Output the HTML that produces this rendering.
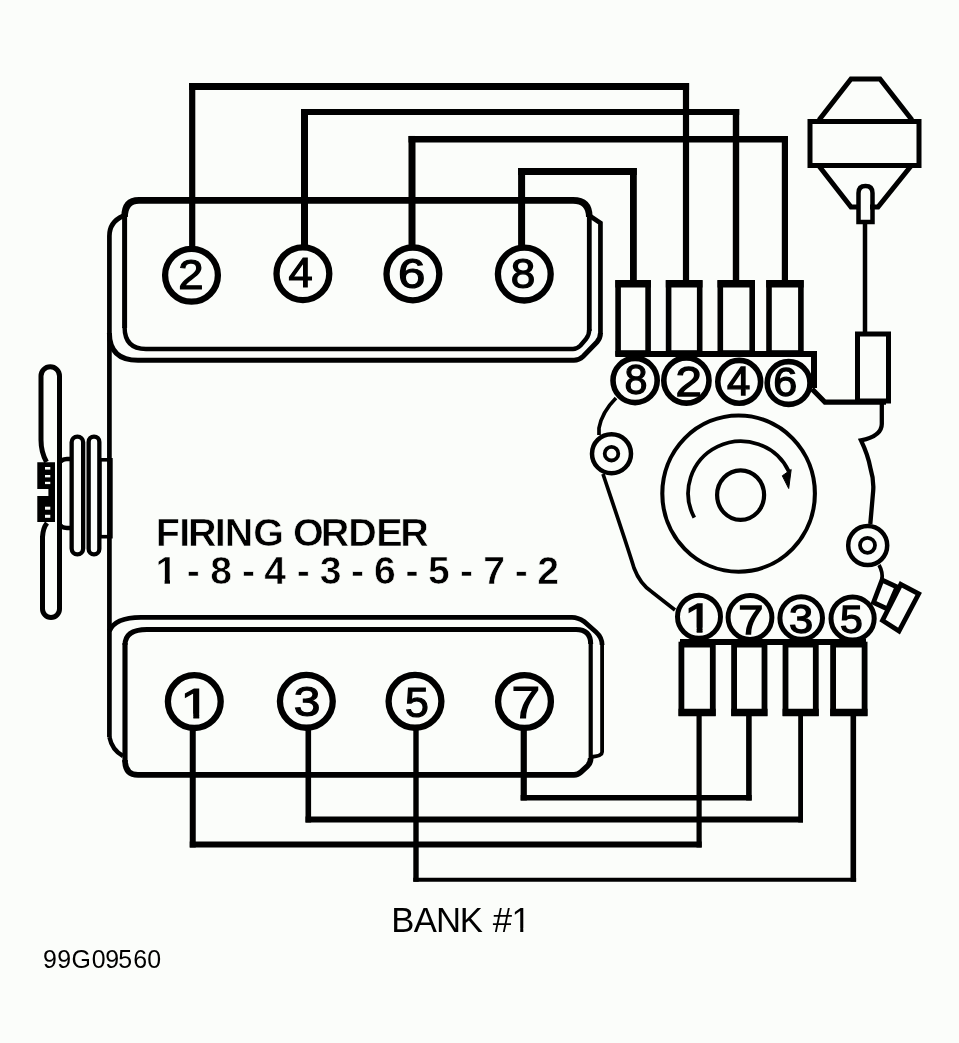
<!DOCTYPE html>
<html><head><meta charset="utf-8"><style>
html,body{margin:0;padding:0;background:#fbfdfa;}
svg{display:block;will-change:transform;}
text{font-family:"Liberation Sans",sans-serif;}
</style></head><body>
<svg width="959" height="1043" viewBox="0 0 959 1043">
<rect width="959" height="1043" fill="#fbfdfa"/>
<g fill="none" stroke="#000" stroke-linejoin="miter" stroke-linecap="butt">
<path stroke-width="6.2" d="M192.2 250.00 V83.00"/>
<path stroke-width="7" d="M189.10 86.5 H689.10"/>
<path stroke-width="6.2" d="M686 83.00 V284.00"/>
<path stroke-width="7" d="M304.5 248.00 V108.90"/>
<path stroke-width="6.2" d="M301.00 112 H739.20"/>
<path stroke-width="6.4" d="M736 108.90 V284.00"/>
<path stroke-width="7" d="M412 248.00 V135.95"/>
<path stroke-width="6.5" d="M408.50 139.2 H788.00"/>
<path stroke-width="6.2" d="M784.9 135.95 V284.00"/>
<path stroke-width="7" d="M521.6 248.00 V168.00"/>
<path stroke-width="7" d="M518.10 171.5 H636.80"/>
<path stroke-width="6.8" d="M633.4 168.00 V284.00"/>
<path stroke-width="6.6" d="M124.6 217 Q124.6 200.4 139 200.4 H573 Q589.3 200.4 589.3 217"/>
<path stroke-width="5" d="M124.6 214 V328"/>
<path stroke-width="4.8" d="M589.3 214 V331"/>
<path stroke-width="4.4" d="M124.6 327 Q124.6 349 146 349 H573 Q577 349 580.5 345.5 L586 339 Q589.3 335 589.3 329"/>
<path stroke-width="4.7" d="M123 216 Q109.4 222 109.4 236 V737 M600.45 334 V223 L590 216"/>
<path stroke-width="5" d="M109.4 333 Q109.4 360.3 138 360.3 H574 Q579 360.3 583 356.5 L597 342 Q600.45 338 600.45 333"/>
<path stroke-width="5" d="M125 645 Q125 629.4 147 629.4 H576 Q590.7 629.4 590.7 644"/>
<path stroke-width="5.15" d="M125 643 V762"/>
<path stroke-width="4.2" d="M590.7 642 V761"/>
<path stroke-width="5.6" d="M125 760 Q125 774.9 138 774.9 H574 Q578 774.9 581 772 L587.5 766 Q590.7 763 590.7 758"/>
<path stroke-width="4.8" d="M109.4 631 Q115 617.3 141 617.3 H572 Q578 617.3 584 621.5 L596 632 Q602.1 637.5 602.1 645"/>
<path stroke-width="3.8" d="M602.1 643 V752 Q602.1 756 591 757"/>
<path stroke-width="4.4" d="M109.4 737 Q112 750 123 756"/>
<path stroke-width="6" d="M192.75 728.00 V847.50"/>
<path stroke-width="6" d="M189.75 844.5 H701.70"/>
<path stroke-width="5.2" d="M699.1 847.50 V713.00"/>
<path stroke-width="5.6" d="M308.3 728.00 V822.50"/>
<path stroke-width="6" d="M305.50 819.5 H803.00"/>
<path stroke-width="4.8" d="M800.6 822.50 V713.00"/>
<path stroke-width="5.4" d="M416 728.00 V881.80"/>
<path stroke-width="4" d="M413.30 879.8 H856.10"/>
<path stroke-width="5.6" d="M853.3 881.80 V713.00"/>
<path stroke-width="6.2" d="M523.75 728.00 V800.50"/>
<path stroke-width="5.4" d="M520.65 797.8 H751.70"/>
<path stroke-width="5.6" d="M748.9 800.50 V713.00"/>
<g stroke-width="5.6">
<rect x="618.1" y="283" width="30.0" height="70"/>
<path stroke-width="7.5" d="M615.3 283.75 H650.9"/>
<rect x="668.6" y="283" width="31.1" height="70"/>
<path stroke-width="7.5" d="M665.8 283.75 H702.5"/>
<rect x="720.3" y="283" width="31.9" height="70"/>
<path stroke-width="7.5" d="M717.5 283.75 H755"/>
<rect x="769.0" y="283" width="31.9" height="70"/>
<path stroke-width="7.5" d="M766.2 283.75 H803.7"/>
</g>
<path stroke-width="6" d="M615.3 354 H814 V388"/>
<path stroke-width="5" d="M810 121.5 H919 V165.5 H810 Z"/>
<path stroke-width="5" d="M819 120 L851 79 H880 L912 120 M819 166 L851 207 H859 M870 207 H878 L911 166"/>
<path stroke-width="4.5" d="M858.5 222 V193 Q858.5 186 865.5 186 Q872.5 186 872.5 193 V222 Z"/>
<path stroke-width="4.5" d="M865 222 V333"/>
<rect x="857.5" y="334" width="31" height="67" stroke-width="5"/>
<path stroke-width="5.2" d="M812 389 L825 402.2 H886"/>
<path stroke-width="4.3" d="M881.8 402 V424 Q881.8 436 861 440.4 Q868 455 870.3 467.7 Q874 480 873.2 490.7 L870.3 524"/>
<path stroke-width="3.7" d="M616 398 Q602 412 599 428 V435 M603 474 C610 495 628 548 634 568 Q640 584 652 592 L675 610"/>
<path stroke-width="3.7" d="M879 565 Q883 572 882 580"/>
<circle cx="611.5" cy="453.7" r="19.5" stroke-width="4.5"/>
<circle cx="611.5" cy="453.7" r="6.8" stroke-width="3.8"/>
<circle cx="867.7" cy="545.5" r="19.5" stroke-width="4.5"/>
<circle cx="867.5" cy="545.3" r="7.5" stroke-width="3.8"/>
<path stroke-width="4.8" d="M882 580 L897 587 L887.5 609 L873.5 602.5 Z"/>
<path stroke-width="4.8" d="M900.8 584.3 L918.7 593.8 L899 631 L882.5 620.5 Z"/>
<ellipse cx="738.6" cy="493.6" rx="76.3" ry="78.1" stroke-width="4.1"/>
<ellipse cx="740.6" cy="495.1" rx="23.5" ry="24.8" stroke-width="4.2"/>
<path stroke-width="3.8" d="M694.31 517.57 A52.75 52 0 1 1 788.81 471.42"/>
<path fill="#000" stroke-width="1" d="M782.3 475.8 L791.2 469.5 L788.7 488.5 Z"/>
<g stroke-width="5.6" fill="#fbfdfa">
<circle cx="635.1" cy="380.5" r="22.1"/>
<circle cx="686.4" cy="380.5" r="22.6"/>
<circle cx="739.2" cy="381.8" r="21.4"/>
<circle cx="788.6" cy="383" r="21.4"/>
</g>
<g stroke-width="5.8">
<rect x="681.4" y="644.6" width="31.4" height="68.4"/>
<path stroke-width="7.5" d="M678.5 712.6 H715.7"/>
<rect x="734.1" y="644.6" width="30.4" height="68.4"/>
<path stroke-width="7.5" d="M731.25 712.6 H767.5"/>
<rect x="785.5" y="644.6" width="30.3" height="68.4"/>
<path stroke-width="7.5" d="M782.6 712.6 H818.75"/>
<rect x="833.1" y="644.6" width="31.5" height="68.4"/>
<path stroke-width="7.5" d="M830.2 712.6 H867.5"/>
</g>
<path stroke-width="6" d="M680 642 H866"/>
<g stroke-width="5" fill="#fbfdfa">
<circle cx="699" cy="616.8" r="21.5"/>
<circle cx="750" cy="617.5" r="21.9"/>
<circle cx="801.2" cy="618" r="21.3"/>
<circle cx="852.6" cy="618.5" r="21.6"/>
</g>
<path stroke-width="5" d="M46.5 462 Q41 452 41 440 V376 A9.25 9.25 0 0 1 59.5 376 V609 A8.5 8.5 0 0 1 42.5 609 V537 Q43 528 47 523"/>
<path fill="#000" stroke="none" d="M37.3 462.3 H55 V522 H37.3 V496 H48.4 V489 H37.3 Z"/>
<g fill="#fbfdfa" stroke="none">
<rect x="45" y="467" width="5.3" height="2.6"/>
<rect x="45" y="475" width="5.3" height="2.4"/>
<rect x="45" y="481.8" width="5.3" height="2.3"/>
<rect x="45" y="506.7" width="5.3" height="3"/>
<rect x="45" y="514.8" width="5.3" height="3"/>
</g>
<path stroke-width="4.5" d="M59 464 Q61 459 67 459 H71 M59 523 Q61 528 67 528 H71"/>
<rect x="71.65" y="436.55" width="11.5" height="117.8" rx="5.75" stroke-width="4.3"/>
<rect x="88.65" y="436.55" width="10.7" height="117.8" rx="5.35" stroke-width="4.3"/>
<rect x="99.8" y="459.8" width="11.1" height="76.9" stroke-width="3.6"/>
<g stroke-width="6.3" fill="#fbfdfa">
<circle cx="191.5" cy="275.3" r="26.4"/>
<circle cx="302.9" cy="273.7" r="26.4"/>
<circle cx="412.9" cy="273.9" r="26.4"/>
<circle cx="524.3" cy="274.1" r="26.4"/>
<circle cx="194.3" cy="701.6" r="26.4"/>
<circle cx="306.35" cy="701.35" r="26.4"/>
<circle cx="415" cy="701.35" r="26.4"/>
<circle cx="524.5" cy="701.5" r="26.4"/>
</g>
</g>
<g fill="#000" stroke="#000">
<text transform="translate(178.20,289.10) scale(1.073,1)" font-size="42.54" stroke-width="1.2">2</text>
<text transform="translate(288.40,287.20) scale(1.007,1)" font-size="43.17" stroke-width="1.2">4</text>
<text transform="translate(398.10,287.99) scale(1.169,1)" font-size="42.09" stroke-width="1.2">6</text>
<text transform="translate(510.68,287.58) scale(1.038,1)" font-size="42.51" stroke-width="1.2">8</text>
<clipPath id="c1"><path clip-rule="evenodd" d="M0 0H959V1043H0Z M173.32 721.40 H193.32 V713.76 H173.32Z M199.20 721.40 H219.20 V713.76 H199.20Z"/></clipPath><g clip-path="url(#c1)"><text transform="translate(180.61,718.40) scale(1.222,1)" font-size="43.31" stroke-width="1.2">1</text></g>
<text transform="translate(293.78,715.98) scale(1.126,1)" font-size="42.51" stroke-width="1.2">3</text>
<text transform="translate(405.09,716.78) scale(1.006,1)" font-size="42.57" stroke-width="1.2">5</text>
<text transform="translate(511.56,718.40) scale(1.177,1)" font-size="43.75" stroke-width="1.2">7</text>
<text transform="translate(624.45,394.43) scale(0.966,1)" font-size="42.80" stroke-width="1.3">8</text>
<text transform="translate(675.57,395.55) scale(1.107,1)" font-size="42.82" stroke-width="1.3">2</text>
<text transform="translate(726.89,394.85) scale(1.029,1)" font-size="40.70" stroke-width="1.3">4</text>
<text transform="translate(773.26,395.55) scale(1.049,1)" font-size="41.10" stroke-width="1.3">6</text>
<clipPath id="c2"><path clip-rule="evenodd" d="M0 0H959V1043H0Z M676.68 635.35 H696.68 V627.86 H676.68Z M702.50 635.35 H722.50 V627.86 H702.50Z"/></clipPath><g clip-path="url(#c2)"><text transform="translate(684.48,632.35) scale(1.258,1)" font-size="40.63" stroke-width="1.3">1</text></g>
<text transform="translate(738.33,633.75) scale(1.109,1)" font-size="40.84" stroke-width="1.3">7</text>
<text transform="translate(789.00,633.26) scale(1.079,1)" font-size="40.25" stroke-width="1.3">3</text>
<text transform="translate(840.11,633.27) scale(1.042,1)" font-size="39.27" stroke-width="1.3">5</text>
</g>
<text x="155.71 179.21 187.97 214.81 224.80 253.18 253.18 292.91 320.77 348.25 376.28 400.37" y="546.3" font-size="39.5" font-weight="bold" stroke="#fbfdfa" stroke-width="0.6" fill="#000">FIRING ORDER</text>
<clipPath id="c3"><path clip-rule="evenodd" d="M0 0H959V1043H0Z M152.51 586.10 H164.64 V579.31 H152.51Z M170.00 586.10 H183.69 V579.31 H170.00Z"/></clipPath>
<g clip-path="url(#c3)"><text x="155.51 155.51 186.83 186.83 210.16 210.16 242.11 242.11 264.34 264.34 296.66 296.66 319.63 319.63 351.01 351.01 374.12 374.12 405.51 405.51 427.92 427.92 459.91 459.91 483.15 483.15 514.66 514.66 537.33" y="584.1" font-size="39.1" font-weight="bold" stroke="#fbfdfa" stroke-width="0.6" fill="#000">1 - 8 - 4 - 3 - 6 - 5 - 7 - 2</text></g>
<clipPath id="c4"><path clip-rule="evenodd" d="M0 0H959V1043H0Z M508.51 933.80 H520.23 V928.41 H508.51Z M523.30 933.80 H535.44 V928.41 H523.30Z"/></clipPath>
<g clip-path="url(#c4)"><text x="391.37 413.83 436.11 459.65 459.65 492.86 511.51" y="931.8" font-size="34.7" fill="#000">BANK #1</text></g>
<text x="43.08 57.13 71.62 91.63 105.13 118.35 133.34 147.33" y="967.7" font-size="24.9" fill="#000">99G09560</text>
</svg>
</body></html>
